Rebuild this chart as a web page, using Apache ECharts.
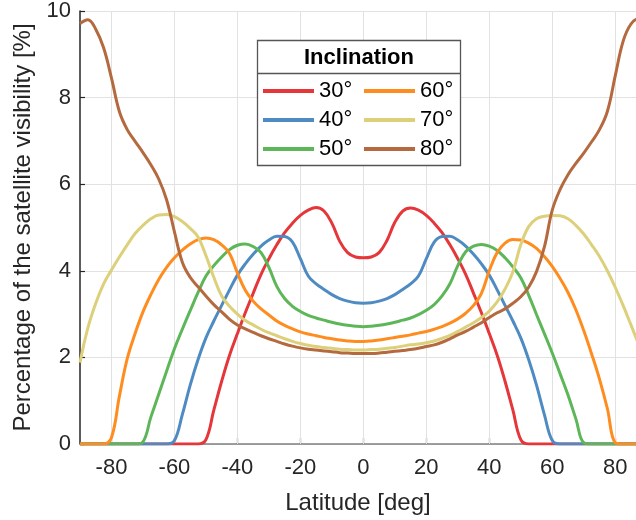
<!DOCTYPE html>
<html>
<head>
<meta charset="utf-8">
<script src="https://cdn.jsdelivr.net/npm/echarts@6/dist/echarts.min.js"></script>
<style>
html,body{margin:0;padding:0;background:#fff;}
#chart{width:636px;height:520px;}
</style>
</head>
<body>
<div id="chart"></div>
<script>
// Latitude grid [deg]
var latitudes = [-90,-87.5,-85,-82.5,-80,-77.5,-75,-72.5,-70,-67.5,-65,-62.5,-60,-57.5,-55,-52.5,-50,-47.5,-45,-42.5,-40,-37.5,-35,-32.5,-30,-27.5,-25,-22.5,-20,-17.5,-15,-12.5,-10,-7.5,-5,-2.5,0,2.5,5,7.5,10,12.5,15,17.5,20,22.5,25,27.5,30,32.5,35,37.5,40,42.5,45,47.5,50,52.5,55,57.5,60,62.5,65,67.5,70,72.5,75,77.5,80,82.5,85,87.5,90];

// Visibility [%] for each inclination
var inc30 = [0,0,0,0,0,0,0,0,0,0,0,0,0,0,0,0,0.10,0.78,1.45,2.05,2.55,3.03,3.48,3.92,4.28,4.60,4.88,5.10,5.28,5.40,5.46,5.38,5.10,4.68,4.42,4.32,4.30,4.32,4.42,4.70,5.12,5.38,5.45,5.40,5.28,5.10,4.88,4.60,4.28,3.92,3.48,3.03,2.55,2.05,1.45,0.78,0.10,0,0,0,0,0,0,0,0,0,0,0,0,0,0,0,0];
var inc40 = [0,0,0,0,0,0,0,0,0,0,0,0,0.08,0.68,1.36,1.95,2.45,2.84,3.20,3.56,3.90,4.16,4.38,4.57,4.71,4.80,4.79,4.66,4.28,3.88,3.70,3.57,3.45,3.36,3.30,3.26,3.25,3.26,3.30,3.36,3.45,3.57,3.70,3.88,4.28,4.66,4.79,4.80,4.71,4.57,4.38,4.16,3.90,3.56,3.20,2.84,2.45,1.95,1.36,0.68,0.08,0,0,0,0,0,0,0,0,0,0,0,0];
var inc50 = [0,0,0,0,0,0,0,0,0.05,0.62,1.15,1.68,2.20,2.65,3.08,3.50,3.88,4.12,4.32,4.49,4.59,4.62,4.56,4.42,4.08,3.64,3.36,3.18,3.06,2.97,2.91,2.86,2.81,2.77,2.74,2.72,2.71,2.72,2.74,2.77,2.81,2.86,2.91,2.99,3.09,3.22,3.42,3.70,4.12,4.44,4.57,4.61,4.57,4.47,4.30,4.09,3.84,3.44,2.99,2.55,2.10,1.62,1.13,0.58,0.03,0,0,0,0,0,0,0,0];
var inc60 = [0,0,0,0,0.15,1.10,1.97,2.55,3.05,3.45,3.80,4.08,4.30,4.48,4.62,4.72,4.76,4.72,4.60,4.40,3.95,3.55,3.30,3.12,2.98,2.84,2.74,2.66,2.59,2.54,2.50,2.46,2.43,2.40,2.38,2.37,2.37,2.38,2.40,2.43,2.46,2.49,2.52,2.56,2.60,2.65,2.71,2.79,2.89,3.02,3.20,3.48,4.00,4.42,4.64,4.72,4.71,4.64,4.52,4.33,4.10,3.82,3.50,3.10,2.62,2.08,1.50,0.82,0.03,0,0,0,0];
var inc70 = [1.88,2.68,3.25,3.70,4.02,4.32,4.60,4.86,5.05,5.20,5.29,5.30,5.25,5.14,4.98,4.78,4.35,3.85,3.42,3.18,3.00,2.85,2.75,2.65,2.57,2.50,2.43,2.37,2.32,2.28,2.25,2.23,2.21,2.19,2.18,2.17,2.17,2.18,2.19,2.21,2.23,2.26,2.29,2.31,2.34,2.38,2.44,2.51,2.60,2.70,2.80,2.92,3.07,3.28,3.58,3.98,4.60,5.02,5.20,5.26,5.28,5.27,5.20,5.05,4.85,4.60,4.33,4.00,3.62,3.20,2.75,2.30,1.90];
var inc80 = [9.71,9.80,9.58,9.15,8.45,7.68,7.26,6.99,6.73,6.45,6.12,5.64,4.90,4.20,3.85,3.63,3.42,3.22,3.05,2.88,2.75,2.66,2.58,2.50,2.43,2.37,2.31,2.26,2.22,2.19,2.17,2.15,2.13,2.11,2.10,2.09,2.09,2.09,2.10,2.12,2.14,2.16,2.18,2.21,2.25,2.29,2.35,2.43,2.52,2.60,2.70,2.80,2.92,3.03,3.12,3.25,3.40,3.62,3.98,4.55,5.40,5.88,6.22,6.48,6.72,6.98,7.26,7.68,8.50,9.30,9.70,9.82,9.75];

var seriesNames = ['30°','40°','50°','60°','70°','80°'];
var seriesValues = [inc30, inc40, inc50, inc60, inc70, inc80];
var seriesColors = ['#E5363A','#4F8BC3','#5DB658','#FF8C1E','#DCD07A','#B4693E'];

var xTicks = [-80,-60,-40,-20,0,20,40,60,80];
var yTicks = [0,2,4,6,8,10];

var FONT = 'Arial, "Liberation Sans", Helvetica, sans-serif';

var series = [];
// Vertical grid lines drawn at the x tick values
series.push({
  type: 'line', data: [], silent: true,
  markLine: {
    silent: true, symbol: ['none','none'], animation: false, z: 1,
    label: {show: false},
    lineStyle: {color: '#e2e2e2', width: 1, type: 'solid'},
    data: xTicks.map(function (v) { return {xAxis: v}; })
  }
});
seriesValues.forEach(function (vals, i) {
  series.push({
    name: seriesNames[i],
    type: 'line',
    data: latitudes.map(function (la, j) { return [la, vals[j]]; }),
    showSymbol: false,
    symbol: 'none',
    smooth: 0.4,
    color: seriesColors[i],
    lineStyle: {width: 3, color: seriesColors[i]},
    itemStyle: {color: seriesColors[i]},
    z: 2
  });
});

var chart = echarts.init(document.getElementById('chart'), null, {renderer: 'canvas'});
chart.setOption({
  animation: false,
  backgroundColor: '#fff',
  grid: {left: 80, right: 0, top: 11, bottom: 76, containLabel: false},
  xAxis: {
    type: 'value', min: -90, max: 86.6, interval: 10,
    name: 'Latitude [deg]', nameLocation: 'middle', nameGap: 47,
    nameTextStyle: {fontSize: 24, color: '#262626', fontFamily: FONT},
    axisLine: {show: true, onZero: false, lineStyle: {color: '#808080', width: 1.5}},
    axisTick: {show: true, inside: true, length: 6, customValues: xTicks, lineStyle: {color: '#262626', width: 1.2}},
    axisLabel: {customValues: xTicks, margin: 13, fontSize: 22, color: '#262626', fontFamily: FONT,
      formatter: function (v) { return (xTicks.indexOf(v) >= 0) ? String(v) : ''; }},
    splitLine: {show: false}
  },
  yAxis: {
    type: 'value', min: 0, max: 10, interval: 2,
    name: 'Percentage of the satellite visibility [%]', nameLocation: 'middle', nameGap: 41, nameRotate: 90,
    nameTextStyle: {fontSize: 24, color: '#262626', fontFamily: FONT},
    axisLine: {show: true, onZero: false, lineStyle: {color: '#262626', width: 1.5}},
    axisTick: {show: true, inside: true, length: 5, lineStyle: {color: '#262626', width: 1.2}},
    axisLabel: {margin: 9, fontSize: 22, color: '#262626', fontFamily: FONT},
    splitLine: {show: true, lineStyle: {color: '#e2e2e2', width: 1}}
  },
  legend: [
    {data: seriesNames.slice(0,3), orient: 'vertical', left: 263, top: 79, itemWidth: 51, itemHeight: 4,
     icon: 'rect', itemGap: 5, padding: 0, selectedMode: false, z: 20,
     textStyle: {fontSize: 22, lineHeight: 24, color: '#000', fontFamily: FONT}},
    {data: seriesNames.slice(3,6), orient: 'vertical', left: 364, top: 79, itemWidth: 51, itemHeight: 4,
     icon: 'rect', itemGap: 5, padding: 0, selectedMode: false, z: 20,
     textStyle: {fontSize: 22, lineHeight: 24, color: '#000', fontFamily: FONT}}
  ],
  graphic: [
    {type: 'rect', z: 10, shape: {x: 257.5, y: 40.5, width: 203, height: 125},
     style: {fill: '#fff', stroke: '#555', lineWidth: 1.3}},
    {type: 'line', z: 11, shape: {x1: 257.5, y1: 73.5, x2: 460.5, y2: 73.5},
     style: {stroke: '#555', lineWidth: 1.3}},
    {type: 'text', z: 11, x: 359, y: 58,
     style: {text: 'Inclination', font: 'bold 22px ' + FONT, fill: '#000', align: 'center', verticalAlign: 'middle'}}
  ],
  series: series
});
</script>
</body>
</html>
